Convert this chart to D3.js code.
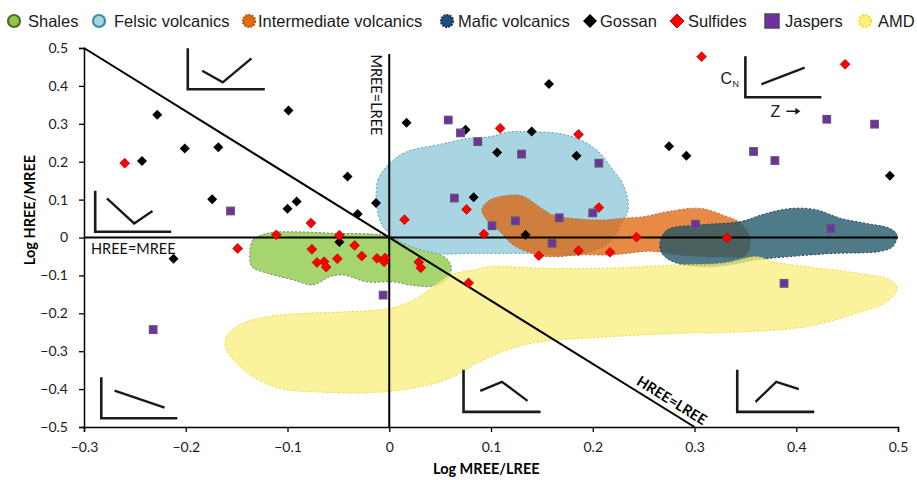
<!DOCTYPE html>
<html>
<head>
<meta charset="utf-8">
<script src="https://cdn.jsdelivr.net/npm/d3@7"></script>
<style>
  html, body { margin: 0; padding: 0; background: #fff; }
  svg { display: block; }
  .tick text { font-family: Lato, "Liberation Sans", sans-serif; }
</style>
</head>
<body>
<svg id="chart" width="917" height="480"></svg>
<script>
// ---- Axis ticks ----
const xTicks = [-0.3, -0.2, -0.1, 0, 0.1, 0.2, 0.3, 0.4, 0.5];
const yTicks = [-0.5, -0.4, -0.3, -0.2, -0.1, 0, 0.1, 0.2, 0.3, 0.4, 0.5];

// ---- Lithology fields: [Log MREE/LREE, Log HREE/MREE] outlines ----
const shales = [[-0.137,-0.042],[-0.134,-0.007],[-0.120,0.011],[-0.094,0.015],[-0.055,0.011],[-0.009,0.007],[0.011,-0.007],[0.037,-0.033],[0.056,-0.055],[0.061,-0.081],[0.056,-0.112],[0.043,-0.128],[0.020,-0.125],[0.004,-0.117],[-0.022,-0.117],[-0.045,-0.099],[-0.058,-0.103],[-0.075,-0.125],[-0.094,-0.112],[-0.120,-0.094],[-0.135,-0.077]];
const felsic = [[-0.012,0.081],[-0.011,0.152],[0.001,0.197],[0.017,0.226],[0.047,0.244],[0.079,0.262],[0.099,0.266],[0.119,0.279],[0.135,0.279],[0.165,0.275],[0.184,0.262],[0.204,0.231],[0.220,0.178],[0.230,0.139],[0.235,0.086],[0.233,0.059],[0.228,0.037],[0.220,-0.002],[0.210,-0.024],[0.191,-0.042],[0.165,-0.046],[0.145,-0.042],[0.109,-0.042],[0.079,-0.042],[0.047,-0.042],[0.014,-0.015],[-0.006,0.028]];
const intermediate = [[0.091,0.073],[0.099,0.099],[0.122,0.112],[0.132,0.108],[0.145,0.086],[0.161,0.059],[0.178,0.051],[0.210,0.046],[0.230,0.051],[0.250,0.055],[0.273,0.068],[0.305,0.077],[0.328,0.059],[0.345,0.038],[0.355,-0.007],[0.350,-0.046],[0.325,-0.051],[0.286,-0.046],[0.256,-0.036],[0.233,-0.042],[0.217,-0.046],[0.187,-0.046],[0.161,-0.051],[0.145,-0.046],[0.122,-0.020],[0.109,0.015],[0.096,0.046]];
const mafic = [[0.268,-0.042],[0.266,-0.015],[0.273,0.020],[0.305,0.033],[0.345,0.042],[0.371,0.064],[0.397,0.077],[0.420,0.073],[0.443,0.051],[0.469,0.037],[0.492,0.024],[0.499,0.007],[0.495,-0.024],[0.482,-0.037],[0.436,-0.042],[0.391,-0.051],[0.361,-0.059],[0.332,-0.073],[0.305,-0.077],[0.279,-0.064]];
const amd = [[-0.161,-0.288],[-0.160,-0.262],[-0.147,-0.231],[-0.120,-0.209],[-0.081,-0.200],[-0.042,-0.196],[0.001,-0.187],[0.024,-0.165],[0.043,-0.130],[0.060,-0.099],[0.083,-0.086],[0.099,-0.077],[0.148,-0.081],[0.214,-0.081],[0.279,-0.073],[0.328,-0.068],[0.361,-0.051],[0.377,-0.064],[0.410,-0.077],[0.459,-0.094],[0.492,-0.112],[0.499,-0.134],[0.489,-0.169],[0.459,-0.200],[0.410,-0.235],[0.345,-0.249],[0.279,-0.253],[0.214,-0.262],[0.148,-0.275],[0.115,-0.297],[0.083,-0.336],[0.060,-0.371],[0.030,-0.394],[-0.009,-0.408],[-0.075,-0.407],[-0.107,-0.398],[-0.134,-0.367],[-0.153,-0.323]];

// ---- Samples ----
const gossan = [[-0.228,0.324],[-0.243,0.202],[-0.201,0.235],[-0.168,0.238],[-0.099,0.335],[-0.174,0.101],[-0.091,0.095],[-0.100,0.076],[-0.041,0.161],[-0.031,0.062],[-0.013,0.091],[-0.212,-0.056],[-0.049,-0.012],[0.017,0.303],[0.075,0.284],[0.157,0.405],[0.140,0.280],[0.106,0.224],[0.184,0.216],[0.083,0.106],[0.134,0.007],[0.275,0.241],[0.292,0.216],[0.492,0.163]];
const sulfides = [[-0.260,0.196],[-0.077,0.038],[-0.111,0.007],[-0.049,0.006],[-0.149,-0.029],[-0.076,-0.031],[-0.034,-0.021],[-0.027,-0.049],[-0.051,-0.056],[-0.071,-0.066],[-0.064,-0.064],[-0.062,-0.078],[-0.012,-0.055],[-0.004,-0.054],[-0.005,-0.064],[0.029,-0.065],[0.031,-0.080],[0.015,0.047],[0.076,0.074],[0.078,-0.120],[0.109,0.288],[0.186,0.272],[0.206,0.079],[0.093,0.009],[0.147,-0.048],[0.186,-0.035],[0.217,-0.039],[0.243,0.001],[0.307,0.477],[0.448,0.457],[0.332,-0.001]];
const jaspers = [[-0.156,0.070],[-0.006,-0.152],[-0.232,-0.243],[0.058,0.310],[0.070,0.276],[0.087,0.253],[0.130,0.220],[0.206,0.196],[0.064,0.104],[0.101,0.031],[0.124,0.044],[0.167,0.052],[0.200,0.065],[0.160,-0.015],[0.301,0.035],[0.430,0.312],[0.477,0.299],[0.358,0.227],[0.379,0.203],[0.434,0.024],[0.388,-0.121]];

// ---- Legend entries ----
const legendLabels = ["Shales", "Felsic volcanics", "Intermediate volcanics", "Mafic volcanics", "Gossan", "Sulfides", "Jaspers", "AMD"];

const svg = d3.select("#chart");
const x = d3.scaleLinear().domain([-0.3, 0.5]).range([84, 898]);
const y = d3.scaleLinear().domain([-0.5, 0.5]).range([427, 48]);

// ---- Fields ----
const fieldStyles = [
  { data: shales, fill: "#a6d56f", op: 1, stroke: "#7a7a7a" },
  { data: felsic, fill: "#a8d5e1", op: 1, stroke: "#5d9fb6" },
  { data: intermediate, fill: "#e05d00", op: 0.73, stroke: "#a07050" },
  { data: mafic, fill: "#1d5567", op: 0.78, stroke: "#2b3f70" },
  { data: amd, fill: "#faee80", op: 0.77, stroke: "#f0da2a" }
];
const area = d3.line().x(d => x(d[0])).y(d => y(d[1])).curve(d3.curveCatmullRomClosed.alpha(0.5));
svg.append("g").selectAll("path").data(fieldStyles).join("path")
  .attr("d", d => area(d.data))
  .attr("fill", d => d.fill)
  .attr("fill-opacity", d => d.op)
  .attr("stroke", d => d.stroke)
  .attr("stroke-width", 1)
  .attr("stroke-dasharray", "2,2");

// ---- Axes ----
const xAxis = svg.append("g").attr("transform", `translate(0,${y(-0.5)})`)
  .call(d3.axisBottom(x).tickValues(xTicks).tickSize(5).tickPadding(10).tickFormat(d => d3.format("")(+d.toFixed(1))));
const yAxis = svg.append("g").attr("transform", `translate(${x(-0.3)},0)`)
  .call(d3.axisLeft(y).tickValues(yTicks).tickSize(5).tickPadding(11).tickFormat(d => d3.format("")(+d.toFixed(1))));
[xAxis, yAxis].forEach(a => {
  a.select(".domain").attr("stroke", "#000").attr("stroke-width", 1.5);
  a.selectAll(".tick line").attr("stroke", "#000").attr("stroke-width", 1.3);
  a.selectAll(".tick text").attr("font-size", 14).attr("fill", "#1a1a1a");
});

// ---- Reference lines ----
const refs = svg.append("g").attr("stroke", "#000").attr("stroke-width", 2).attr("fill", "none");
refs.append("line").attr("x1", x(-0.3)).attr("x2", x(0.5)).attr("y1", y(0)).attr("y2", y(0));
refs.append("line").attr("x1", x(0)).attr("x2", x(0)).attr("y1", y(0.484)).attr("y2", y(-0.5));
refs.append("line").attr("x1", x(-0.3)).attr("y1", y(0.5)).attr("x2", x(0.3)).attr("y2", y(-0.5));

const font = "Lato, 'Liberation Sans', sans-serif";
svg.append("text").attr("x", 91).attr("y", 254).attr("font-family", font).attr("font-size", 14.5)
  .attr("fill", "#111").text("HREE=MREE");
svg.append("text").attr("transform", `translate(${x(0) - 18},${y(0.483)}) rotate(90)`)
  .attr("font-family", font).attr("font-size", 14.5).attr("fill", "#111").text("MREE=LREE");
const ang = Math.atan2(y(-0.5) - y(0.5), x(0.3) - x(-0.3)) * 180 / Math.PI;
svg.append("text").attr("transform", `translate(${x(0.272)},${y(-0.455)}) rotate(${ang})`)
  .attr("text-anchor", "middle").attr("dy", -6).attr("font-family", font).attr("font-weight", "bold")
  .attr("font-size", 14.5).attr("fill", "#000").text("HREE=LREE");

// ---- Axis titles ----
svg.append("text").attr("x", 433).attr("y", 474).attr("font-family", font).attr("font-weight", "bold")
  .attr("font-size", 14.5).attr("fill", "#000").text("Log MREE/LREE");
svg.append("text").attr("transform", "translate(35,210) rotate(-90)").attr("text-anchor", "middle")
  .attr("font-family", font).attr("font-weight", "bold").attr("font-size", 14.5).attr("fill", "#000").text("Log HREE/MREE");

// ---- Pattern sketches (normalised REE shapes) ----
const sketches = [
  { at: [-0.198, 0.391], w: 77, h: 41, pts: [[14.4,-18.6],[35,-7],[63.7,-31]] },
  { at: [-0.289, 0.015], w: 76, h: 41, pts: [[11.7,-33.4],[39,-8.4],[57.3,-20.7]] },
  { at: [-0.283, -0.477], w: 76, h: 41, pts: [[13.3,-27.6],[63.3,-10.6]] },
  { at: [0.073, -0.460], w: 77, h: 42, pts: [[16.7,-21],[38.4,-30],[64,-11]] },
  { at: [0.342, -0.460], w: 77, h: 42, pts: [[18.3,-10],[39,-30],[61.6,-22.7]] },
  { at: [0.350, 0.370], w: 76, h: 41, pts: [[16,-13],[59.3,-29.6]] }
];
const sk = svg.append("g").attr("fill", "none").attr("stroke", "#1a1a1a").attr("stroke-width", 2.6);
sketches.forEach(s => {
  const g = sk.append("g").attr("transform", `translate(${x(s.at[0])},${y(s.at[1])})`);
  g.append("path").attr("d", `M0,${-s.h}V0H${s.w}`);
  g.append("path").attr("d", d3.line()(s.pts)).attr("stroke-width", 2.4);
});
const last = sketches[5];
const lx = x(last.at[0]), ly = y(last.at[1]);
svg.append("text").attr("x", lx - 25).attr("y", ly - 13).attr("font-family", "'Liberation Sans', Arial, sans-serif")
  .attr("font-size", 16).attr("fill", "#1a1a1a").text("C");
svg.append("text").attr("x", lx - 13).attr("y", ly - 10).attr("font-family", "'Liberation Sans', Arial, sans-serif")
  .attr("font-size", 9).attr("fill", "#1a1a1a").text("N");
svg.append("text").attr("x", lx + 25).attr("y", ly + 20).attr("font-family", "'Liberation Sans', Arial, sans-serif")
  .attr("font-size", 16).attr("fill", "#1a1a1a").text("Z");
svg.append("path").attr("d", `M${lx + 41},${ly + 14}H${lx + 53}`).attr("stroke", "#1a1a1a").attr("stroke-width", 1.5);
svg.append("path").attr("d", `M${lx + 55},${ly + 14}l-5,-3.5v7z`).attr("fill", "#1a1a1a");

// ---- Sample markers ----
const diamond = r => `M0,${-r}L${r},0L0,${r}L${-r},0Z`;
svg.append("g").selectAll("path").data(gossan).join("path")
  .attr("transform", d => `translate(${x(d[0])},${y(d[1])})`)
  .attr("d", diamond(5)).attr("fill", "#000");
svg.append("g").selectAll("path").data(sulfides).join("path")
  .attr("transform", d => `translate(${x(d[0])},${y(d[1])})`)
  .attr("d", diamond(4.9)).attr("fill", "#ff0000").attr("stroke", "#c00000").attr("stroke-width", 0.8);
svg.append("g").selectAll("rect").data(jaspers).join("rect")
  .attr("x", d => x(d[0]) - 3.8).attr("y", d => y(d[1]) - 3.8).attr("width", 7.6).attr("height", 7.6)
  .attr("fill", "#7030a0").attr("stroke", "#5f5870").attr("stroke-width", 1.2);

// ---- Legend ----
const legendX = [14, 99, 249, 447, 590, 677, 772, 865];
const textX = [28, 114, 258, 458, 600, 688, 785, 878];
const lg = svg.append("g");
legendLabels.forEach((name, i) => {
  const cx = legendX[i], cy = 21;
  if (i === 4) {
    lg.append("path").attr("transform", `translate(${cx},${cy})`).attr("d", diamond(7)).attr("fill", "#000");
  } else if (i === 5) {
    lg.append("path").attr("transform", `translate(${cx},${cy})`).attr("d", diamond(7))
      .attr("fill", "#ff0000").attr("stroke", "#c00000").attr("stroke-width", 1);
  } else if (i === 6) {
    lg.append("rect").attr("x", cx - 7).attr("y", cy - 7).attr("width", 14).attr("height", 14)
      .attr("fill", "#7030a0").attr("stroke", "#4a4a5a").attr("stroke-width", 1.5);
  } else {
    const sty = [
      ["#8cc94a", "#4f6b26", null],
      ["#a8d5e1", "#3c8aa6", null],
      ["#e36c0a", "#b5520a", "2,1"],
      ["#1f4e79", "#17375e", "2,1"],
      null, null, null,
      ["#fbf27e", "#f5dc30", "2,1.5"]
    ][i];
    lg.append("circle").attr("cx", cx).attr("cy", cy).attr("r", 6)
      .attr("fill", sty[0]).attr("stroke", sty[1]).attr("stroke-width", 2.2)
      .attr("stroke-dasharray", sty[2]);
  }
  lg.append("text").attr("x", textX[i]).attr("y", cy + 6).attr("font-family", "'Liberation Sans', Arial, sans-serif")
    .attr("font-size", 16.5).attr("fill", "#1a1a1a").text(name);
});
</script>
</body>
</html>
